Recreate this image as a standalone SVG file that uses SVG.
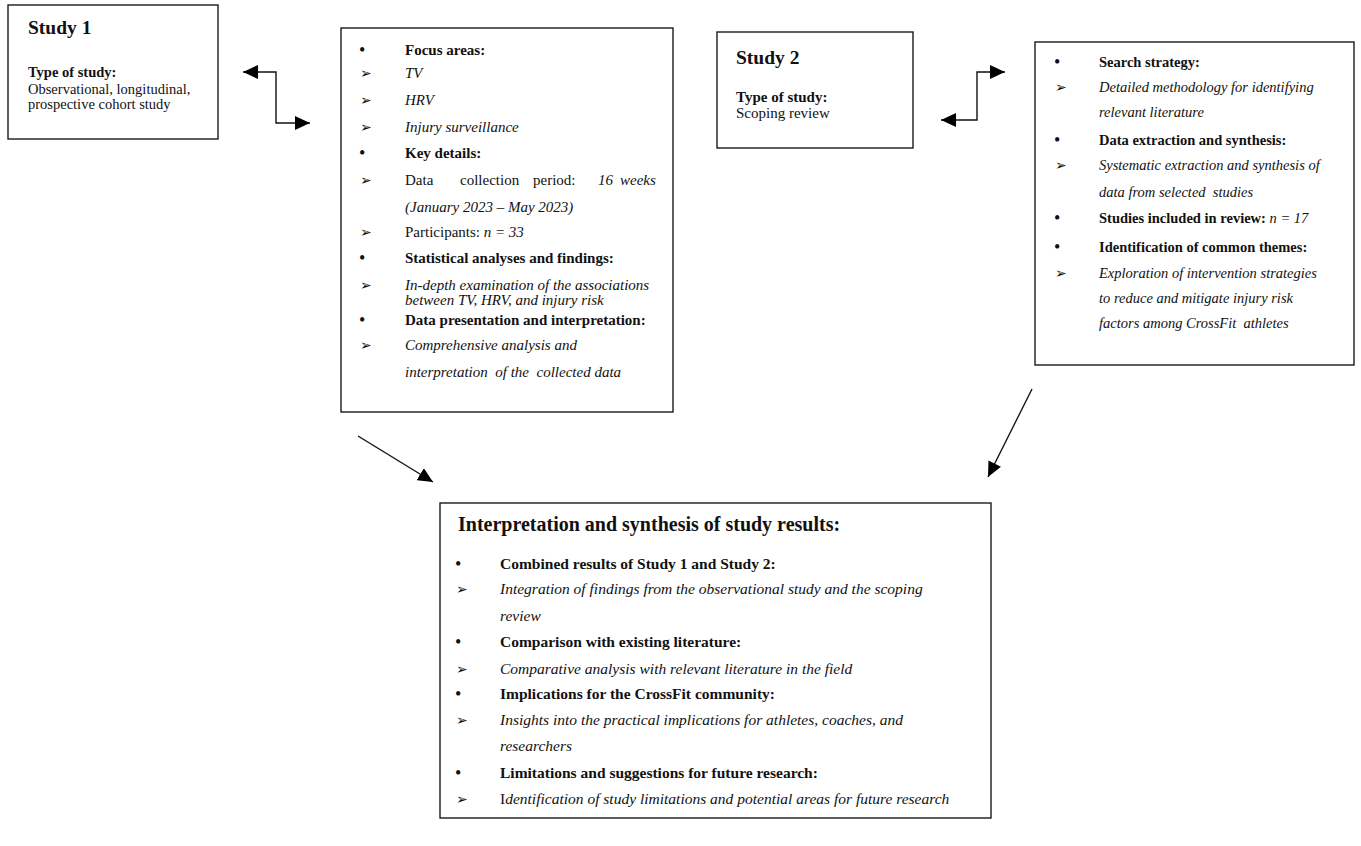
<svg xmlns="http://www.w3.org/2000/svg" width="1361" height="846" viewBox="0 0 1361 846">
<style>
.box{fill:#fff;stroke:#1a1a1a;stroke-width:1.4}
text{font-family:"Liberation Serif","Times New Roman",serif;fill:#111}
.b{font-weight:bold}
.i{font-style:italic}
.s15{font-size:15px}
.s145{font-size:14.5px}
.s155{font-size:15.5px}
.dot{font-size:18px}
.arw{font-family:"DejaVu Sans",sans-serif;font-size:14px}
.con{fill:none;stroke:#111;stroke-width:1.4}
</style>
<defs>
<marker id="ah" markerUnits="userSpaceOnUse" markerWidth="16" markerHeight="14" refX="15" refY="7" orient="auto-start-reverse">
<path d="M0,0 L15,7 L0,14 z" fill="#000"/>
</marker>
</defs>
<rect width="1361" height="846" fill="#fff"/>

<g id="study1">
<rect class="box" x="8" y="5" width="210" height="134"/>
<text x="28" y="34" class="b" font-size="19.5px">Study 1</text>
<text x="28" y="77" class="b s145">Type of study:</text>
<text x="28" y="94" class="s145">Observational, longitudinal,</text>
<text x="28" y="109" class="s145">prospective cohort study</text>
</g>

<g id="study1-details" class="s15">
<rect class="box" x="341" y="28" width="332" height="384"/>
<text x="359" y="56" class="dot">•</text><text x="405" y="55" class="b">Focus areas:</text>
<text x="360" y="78" class="arw">➢</text><text x="405" y="78" class="i">TV</text>
<text x="360" y="105" class="arw">➢</text><text x="405" y="105" class="i">HRV</text>
<text x="360" y="132" class="arw">➢</text><text x="405" y="132" class="i">Injury surveillance</text>
<text x="359" y="159" class="dot">•</text><text x="405" y="158" class="b">Key details:</text>
<text x="360" y="185" class="arw">➢</text><text x="405" y="185">Data</text><text x="460" y="185">collection</text><text x="533" y="185">period:</text><text x="598" y="185" class="i">16</text><text x="620" y="185" class="i">weeks</text>
<text x="405" y="212" class="i">(January 2023 – May 2023)</text>
<text x="360" y="237" class="arw">➢</text><text x="405" y="237">Participants: <tspan class="i">n = 33</tspan></text>
<text x="359" y="264" class="dot">•</text><text x="405" y="263" class="b">Statistical analyses and findings:</text>
<text x="360" y="290" class="arw">➢</text><text x="405" y="290" class="i">In-depth examination of the associations</text>
<text x="405" y="305" class="i">between TV, HRV, and injury risk</text>
<text x="359" y="326" class="dot">•</text><text x="405" y="325" class="b">Data presentation and interpretation:</text>
<text x="360" y="350" class="arw">➢</text><text x="405" y="350" class="i">Comprehensive analysis and</text>
<text x="405" y="377" class="i" xml:space="preserve">interpretation  of the  collected data</text>
</g>

<g id="study2">
<rect class="box" x="717" y="32" width="196" height="116"/>
<text x="736" y="64" class="b" font-size="19.5px">Study 2</text>
<text x="736" y="102" class="b s15">Type of study:</text>
<text x="736" y="118" class="s15">Scoping review</text>
</g>

<g id="study2-details" class="s145">
<rect class="box" x="1035" y="42" width="319" height="323"/>
<text x="1054" y="68" class="dot">•</text><text x="1099" y="67" class="b">Search strategy:</text>
<text x="1055" y="92" class="arw">➢</text><text x="1099" y="92" class="i">Detailed methodology for identifying</text>
<text x="1099" y="117" class="i">relevant literature</text>
<text x="1054" y="146" class="dot">•</text><text x="1099" y="145" class="b">Data extraction and synthesis:</text>
<text x="1055" y="170" class="arw">➢</text><text x="1099" y="170" class="i">Systematic extraction and synthesis of</text>
<text x="1099" y="197" class="i" xml:space="preserve">data from selected  studies</text>
<text x="1054" y="224" class="dot">•</text><text x="1099" y="223" class="b">Studies included in review: <tspan class="i" font-weight="normal">n = 17</tspan></text>
<text x="1054" y="253" class="dot">•</text><text x="1099" y="252" class="b">Identification of common themes:</text>
<text x="1055" y="278" class="arw">➢</text><text x="1099" y="278" class="i">Exploration of intervention strategies</text>
<text x="1099" y="303" class="i">to reduce and mitigate injury risk</text>
<text x="1099" y="328" class="i" xml:space="preserve">factors among CrossFit  athletes</text>
</g>

<g id="synthesis" class="s155">
<rect class="box" x="440" y="503" width="551" height="315"/>
<text x="458" y="531" class="b" font-size="20px">Interpretation and synthesis of study results:</text>
<text x="455" y="570" class="dot">•</text><text x="500" y="569" class="b">Combined results of Study 1 and Study 2:</text>
<text x="456" y="594" class="arw">➢</text><text x="500" y="594" class="i">Integration of findings from the observational study and the scoping</text>
<text x="500" y="621" class="i">review</text>
<text x="455" y="648" class="dot">•</text><text x="500" y="647" class="b">Comparison with existing literature:</text>
<text x="456" y="674" class="arw">➢</text><text x="500" y="674" class="i">Comparative analysis with relevant literature in the field</text>
<text x="455" y="700" class="dot">•</text><text x="500" y="699" class="b">Implications for the CrossFit community:</text>
<text x="456" y="725" class="arw">➢</text><text x="500" y="725" class="i">Insights into the practical implications for athletes, coaches, and</text>
<text x="500" y="751" class="i">researchers</text>
<text x="455" y="779" class="dot">•</text><text x="500" y="778" class="b">Limitations and suggestions for future research:</text>
<text x="456" y="804" class="arw">➢</text><text x="500" y="804">I<tspan class="i">dentification of study limitations and potential areas for future research</tspan></text>
</g>

<g id="connectors">
<path class="con" d="M243,72 L276,72 L276,123 L310,123" marker-start="url(#ah)" marker-end="url(#ah)"/>
<path class="con" d="M941,120 L977,120 L977,72 L1005,72" marker-start="url(#ah)" marker-end="url(#ah)"/>
<path class="con" d="M358,436 L433,482" marker-end="url(#ah)"/>
<path class="con" d="M1032,389 L988,477" marker-end="url(#ah)"/>
</g>
</svg>
